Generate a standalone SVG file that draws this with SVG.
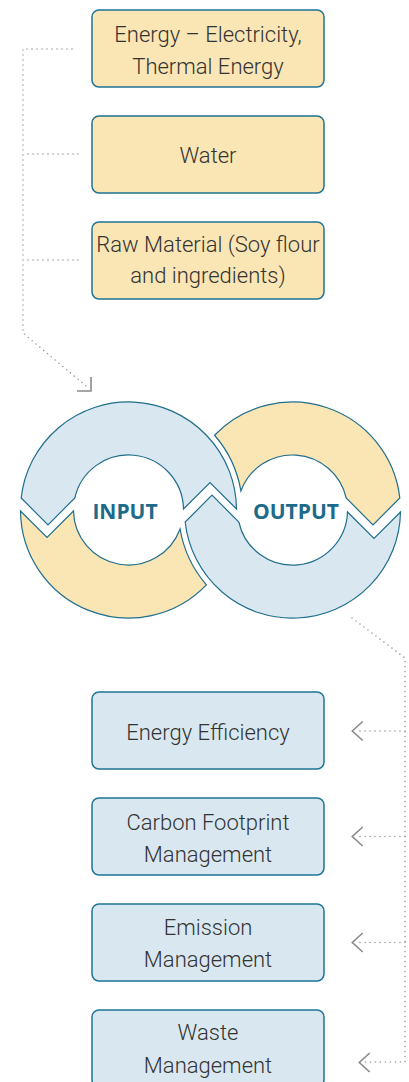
<svg xmlns="http://www.w3.org/2000/svg" width="409" height="1082" viewBox="0 0 409 1082">
<style>
.box rect{stroke:#1f7394;stroke-width:1.5}
.in rect{fill:#fae5b4}
.out rect{fill:#d9e8f0}
.t{font-family:Roboto,"Open Sans","Liberation Sans",sans-serif;font-weight:300;font-size:22px;fill:#333;text-anchor:middle}
.dot{fill:none;stroke:#9a9a9a;stroke-width:1.6;stroke-linecap:round;stroke-dasharray:0 5}
.ah{fill:none;stroke:#8a8a8a;stroke-width:1.6}
.seg{stroke:#1f6e8c;stroke-width:1.2;stroke-linejoin:miter}
.b{fill:#d9e8f0}
.y{fill:#fae5b4}
.lbl{font-family:"Open Sans","Liberation Sans",sans-serif;font-weight:700;font-size:21px;fill:#1d6a8a;text-anchor:middle}
</style>
<rect width="409" height="1082" fill="#fff"/>
<g id="connectors">
<path class="dot" d="M72 49 H23 V333 L86 386"/>
<path class="dot" d="M78 154 H23"/>
<path class="dot" d="M78 260 H23"/>
<path class="ah" d="M77 391 H91 V377"/>
<path class="dot" d="M352 618 L405 658 V1062 H365"/>
<path class="dot" d="M405 731 H358"/>
<path class="dot" d="M405 836.5 H358"/>
<path class="dot" d="M405 942.5 H358"/>
<path class="ah" d="M362.7 721.5 L352.3 731 L362.7 740.5"/>
<path class="ah" d="M362.7 827 L352.3 836.5 L362.7 846"/>
<path class="ah" d="M362.7 933 L352.3 942.5 L362.7 952"/>
<path class="ah" d="M369.7 1053 L359.3 1062.5 L369.7 1072"/>
</g>
<g id="energy" class="box in"><rect x="92" y="10" width="232" height="77" rx="7"/><text class="t" x="208" y="42.3">Energy – Electricity,</text><text class="t" x="208" y="74.3">Thermal Energy</text></g>
<g id="water" class="box in"><rect x="92" y="116" width="232" height="77" rx="7"/><text class="t" x="208" y="163.3">Water</text></g>
<g id="raw-material" class="box in"><rect x="92" y="222" width="232" height="77" rx="7"/><text class="t" x="208" y="251.7">Raw Material (Soy flour</text><text class="t" x="208" y="283.3">and ingredients)</text></g>
<g id="cycle">
<path class="seg y" d="M20.5 511 A108 108 0 0 0 206.4 584.8 A114 114 0 0 1 180.1 529 A55 55 0 0 1 73.5 511 L47 537.5 Z"/>
<path class="seg y" d="M214.56 435.24 A108 108 0 0 1 399.83 498 L373 524.8 L346.17 498 A55 55 0 0 0 240.9 490.96 A114 114 0 0 0 214.56 435.24 Z"/>
<path class="seg b" d="M21.17 498 A108 108 0 0 1 236.5 509 L210 482.5 L183.5 509 A55 55 0 0 0 74.83 498 L48 524.8 Z"/>
<path class="seg b" d="M185.17 522 A108 108 0 0 0 400.5 512 L374 538.5 L347.5 512 A55 55 0 0 1 238.83 522 L212 495.2 Z"/>
<text class="lbl" x="125" y="518.5">INPUT</text>
<text class="lbl" x="296" y="518.5">OUTPUT</text>
</g>
<g id="energy-efficiency" class="box out"><rect x="92" y="692" width="232" height="77" rx="7"/><text class="t" x="208" y="740">Energy Efficiency</text></g>
<g id="carbon-footprint" class="box out"><rect x="92" y="798" width="232" height="77" rx="7"/><text class="t" x="208" y="830">Carbon Footprint</text><text class="t" x="208" y="861.7">Management</text></g>
<g id="emission" class="box out"><rect x="92" y="904" width="232" height="77" rx="7"/><text class="t" x="208" y="935">Emission</text><text class="t" x="208" y="966.7">Management</text></g>
<g id="waste" class="box out"><rect x="92" y="1010" width="232" height="77" rx="7"/><text class="t" x="208" y="1040">Waste</text><text class="t" x="208" y="1072.5">Management</text></g>
</svg>
